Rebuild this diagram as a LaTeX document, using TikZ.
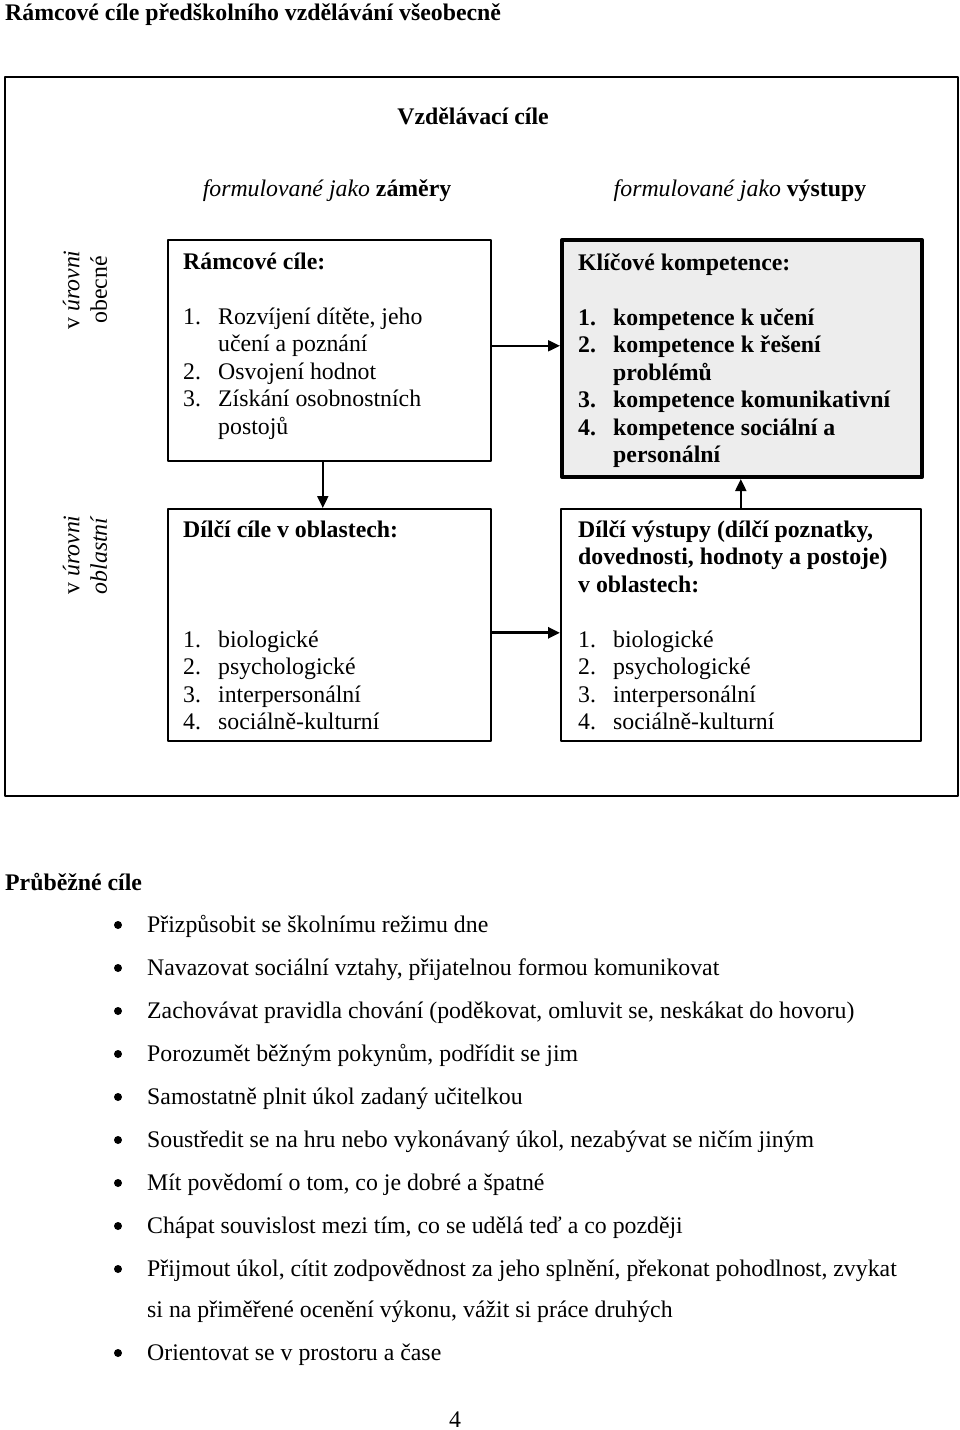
\documentclass[tikz,border=0pt]{standalone}
\usepackage{fontspec}
\setmainfont{Liberation Serif}
\usepackage{array}
\usetikzlibrary{arrows.meta,positioning}
\tikzset{
  every picture/.style={font=\fontsize{23.8}{27.5}\selectfont, line join=round, >={Triangle[length=12pt,width=11pt]}},
  box/.style={draw, line width=1.6pt, anchor=north west, inner sep=0pt},
  keybox/.style={box, line width=4pt, fill=black!7},
  txt/.style={anchor=base west, inner sep=0pt},
  side/.style={rotate=90, align=center, inner sep=0pt},
  dot/.style={circle, fill, inner sep=0pt, minimum size=8pt},
  link/.style={->, line width=2pt},
}
\newcommand{\boxlist}[1]{\begin{tabular}[t]{@{}p{35pt}@{}l@{}}#1\end{tabular}}
\newcommand{\headrow}[1]{\multicolumn{2}{@{}l@{}}{\bfseries #1}}

\begin{document}
\begin{tikzpicture}[x=1pt,y=-1pt]
\useasboundingbox (0,0) rectangle (960,1430);
\node[txt] (title) at (5,20) {\bfseries Rámcové cíle předškolního vzdělávání všeobecně};
\node[box, minimum width=953pt, minimum height=719pt] (outer) at (4,76) {};
\node[anchor=base, inner sep=0pt] (head) at (473,124) {\bfseries Vzdělávací cíle};
\node[anchor=base, inner sep=0pt] (aims) at (327,196) {\textit{formulované jako} \textbf{záměry}};
\node[anchor=base, inner sep=0pt] (outs) at (740,196) {\textit{formulované jako} \textbf{výstupy}};
\node[side] (lvgen) at (85,290) {v \textit{úrovni}\\obecné};
\node[side] (lvarea) at (85,555) {v \textit{úrovni}\\\textit{oblastní}};
% boxes
\node[box, minimum width=323pt, minimum height=221pt] (ltop) at (167,239) {};
\node[keybox, minimum width=360pt, minimum height=237pt] (rtop) at (560,238) {};
\node[box, minimum width=323pt, minimum height=232pt] (lbot) at (167,508) {};
\node[box, minimum width=360pt, minimum height=232pt] (rbot) at (560,508) {};
\node[txt] (ltoptxt) at (183,269) {\boxlist{\headrow{Rámcové cíle:}\\ & \\
  1. & Rozvíjení dítěte, jeho\\ & učení a poznání\\ 2. & Osvojení hodnot\\
  3. & Získání osobnostních\\ & postojů}};
\node[txt] (rtoptxt) at (578,270) {\bfseries\boxlist{\headrow{Klíčové kompetence:}\\ & \\
  1. & kompetence k učení\\ 2. & kompetence k řešení\\ & problémů\\
  3. & kompetence komunikativní\\ 4. & kompetence sociální a\\ & personální}};
\node[txt] (lbottxt) at (183,537) {\boxlist{\headrow{Dílčí cíle v oblastech:}\\ & \\ & \\ & \\
  1. & biologické\\ 2. & psychologické\\ 3. & interpersonální\\ 4. & sociálně-kulturní}};
\node[txt] (rbottxt) at (578,537) {\boxlist{\headrow{Dílčí výstupy (dílčí poznatky,}\\
  \headrow{dovednosti, hodnoty a postoje)}\\ \headrow{v oblastech:}\\ & \\
  1. & biologické\\ 2. & psychologické\\ 3. & interpersonální\\ 4. & sociálně-kulturní}};
% arrows
\draw[link] ([yshift=4.5pt]ltop.east) -- ([yshift=4.5pt]ltop.east -| rtop.west);
\draw[link] ([xshift=-6.5pt]ltop.south) -- ([xshift=-6.5pt]ltop.south |- lbot.north);
\draw[link, line width=2.8pt] ([yshift=-8pt]lbot.east) -- ([yshift=-8pt]lbot.east -| rbot.west);
\draw[link] (rbot.north) -- (rbot.north |- rtop.south);
% running aims
\node[txt] (goals) at (5,890) {\bfseries Průběžné cíle};
\foreach \y/\t [count=\i] in {925/{Přizpůsobit se školnímu režimu dne},
  968/{Navazovat sociální vztahy, přijatelnou formou komunikovat},
  1011/{Zachovávat pravidla chování (poděkovat, omluvit se, neskákat do hovoru)},
  1054/{Porozumět běžným pokynům, podřídit se jim},
  1097/{Samostatně plnit úkol zadaný učitelkou},
  1140/{Soustředit se na hru nebo vykonávaný úkol, nezabývat se ničím jiným},
  1183/{Mít povědomí o tom, co je dobré a špatné},
  1226/{Chápat souvislost mezi tím, co se udělá teď a co později},
  1269/{Přijmout úkol, cítit zodpovědnost za jeho splnění, překonat pohodlnost, zvykat},
  1353/{Orientovat se v prostoru a čase}}{
  \node[dot] (bul\i) at (118,\y) {};
  \node[txt] (item\i) at (147,\y+7) {\t};
}
\node[txt] (item9b) at ([yshift=-41pt]item9.base west) {si na přiměřené ocenění výkonu, vážit si práce druhých};
\node[anchor=base, inner sep=0pt] (page) at (455,1427) {4};
\end{tikzpicture}
\end{document}
